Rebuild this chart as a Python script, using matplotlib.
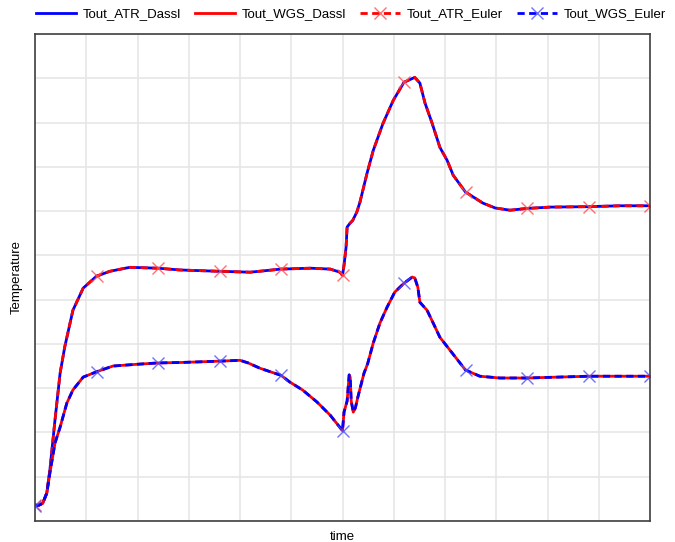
import numpy as np
import matplotlib
matplotlib.use("Agg")
import matplotlib.pyplot as plt

plt.rcParams['font.family'] = ['Liberation Sans', 'DejaVu Sans']

# ATR outlet temperature (top curve)
t_atr = [0, 8, 15, 23, 29, 39, 49, 58, 74, 94, 120, 146, 185, 240, 283, 360, 420, 480,
         537, 576, 595, 600, 603, 607, 609, 615, 620, 628, 634, 648, 660, 679, 699, 720,
         741, 751, 761, 775, 790, 804, 816, 840, 874, 898, 927, 960, 1005, 1080, 1141, 1200]
T_atr = [3.6, 3.6, 4.0, 6.3, 11.5, 22.8, 33.4, 39.3, 47.6, 52.6, 55.3, 56.4, 57.3, 57.1,
         56.7, 56.4, 56.2, 56.9, 57.1, 56.9, 56.2, 55.5, 57.8, 61.9, 66.4, 67.3, 67.9, 69.8,
         72.0, 78.6, 83.7, 89.8, 95.0, 99.1, 100.2, 98.9, 94.4, 89.8, 84.4, 81.5, 78.1,
         74.3, 71.8, 70.7, 70.2, 70.6, 70.9, 71.0, 71.2, 71.2]

# WGS outlet temperature (bottom curve)
t_wgs = [0, 8, 15, 23, 29, 39, 49, 62, 74, 94, 120, 152, 199, 240, 283, 360, 400, 416,
         439, 480, 497, 522, 550, 576, 600, 603, 609, 613, 615, 617, 621, 625, 630, 642,
         649, 660, 673, 687, 702, 720, 736, 741, 747, 751, 765, 777, 790, 840, 868, 907,
         960, 1080, 1200]
T_wgs = [3.4, 3.6, 4.0, 6.3, 10.8, 17.6, 21.2, 26.6, 29.6, 32.5, 33.7, 35.0, 35.4, 35.7,
         35.8, 36.1, 36.3, 35.7, 34.5, 32.9, 31.4, 29.6, 26.9, 23.9, 20.4, 24.6, 27.1, 33.0,
         32.5, 27.1, 24.6, 25.5, 28.0, 33.4, 35.5, 40.2, 44.7, 48.3, 51.7, 53.7, 55.1, 54.9,
         52.8, 49.4, 47.6, 44.7, 41.5, 34.1, 32.7, 32.3, 32.3, 32.7, 32.7]

mark_t = [0, 120, 240, 360, 480, 600, 720, 840, 960, 1080, 1200]

def marks(ts):
    return [i for i, t in enumerate(ts) if t in mark_t]

fig = plt.figure(figsize=(6.75, 5.42), dpi=100)
ax = fig.add_axes([35 / 675, 1 - 521 / 542, 615 / 675, 487 / 542])

lw = 2.0
dash = (0, (2.6, 1.6))
h1, = ax.plot(t_atr, T_atr, color='#0000ff', lw=lw, label='Tout_ATR_Dassl')
h2, = ax.plot(t_wgs, T_wgs, color='#ff0000', lw=lw, label='Tout_WGS_Dassl')
h3, = ax.plot(t_atr, T_atr, color='#ff0000', lw=lw, ls=dash, marker='x', ms=9,
              mew=1.0, mec=(1, 0.3, 0.3, 0.8), markevery=marks(t_atr),
              label='Tout_ATR_Euler')
h4, = ax.plot(t_wgs, T_wgs, color='#0000ff', lw=lw, ls=dash, marker='x', ms=9,
              mew=1.0, mec=(0.3, 0.3, 1, 0.8), markevery=marks(t_wgs),
              label='Tout_WGS_Euler')

ax.set_xlim(0, 1200)
ax.set_ylim(0, 110)
ax.set_xticks(np.arange(0, 1201, 100))
ax.set_yticks(np.arange(0, 111, 10))
ax.tick_params(length=0, labelbottom=False, labelleft=False)
ax.grid(True, color='#e6e6e6', lw=1.2)
ax.set_axisbelow(True)
for s in ax.spines.values():
    s.set_color('#404040')
    s.set_linewidth(1.2)

ax.set_xlabel('time', fontsize=9.5, labelpad=7)
ax.set_ylabel('Temperature', fontsize=9.5, labelpad=9)

fig.legend(handles=[h1, h2, h3, h4], loc='center', bbox_to_anchor=(0.52, 0.974),
           ncol=4, frameon=False, fontsize=9.5, handlelength=3.0,
           handletextpad=0.5, columnspacing=1.1)

fig.savefig('out.png', dpi=100)
